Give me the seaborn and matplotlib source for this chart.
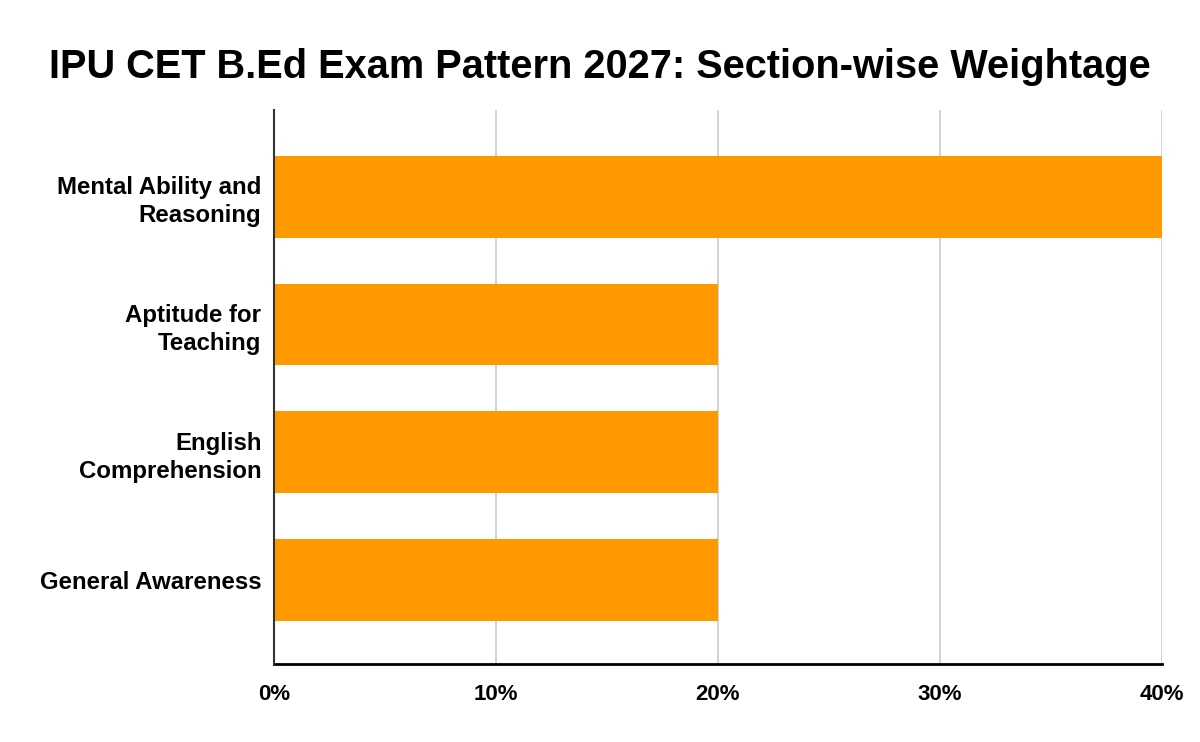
import numpy as np
import matplotlib
matplotlib.use("Agg")
import matplotlib.pyplot as plt
import seaborn as sns
import pandas as pd

sections = ["Mental Ability and\nReasoning", "Aptitude for\nTeaching",
            "English\nComprehension", "General Awareness"]
weightage = [40, 20, 20, 20]
x_ticks = [0, 10, 20, 30, 40]
x_labels = ["0%", "10%", "20%", "30%", "40%"]

df = pd.DataFrame({"section": sections, "weight": weightage})

sns.set_style("white")
plt.rcParams["font.family"] = ["Liberation Sans", "DejaVu Sans"]
plt.rcParams["text.color"] = "black"
plt.rcParams["xtick.color"] = "black"
plt.rcParams["ytick.color"] = "black"

fig = plt.figure(figsize=(12, 7.42), dpi=100)
ax = fig.add_axes([0.2283, 0.105, 0.74, 0.747])

sns.barplot(data=df, x="weight", y="section", color="#ff9900",
            saturation=1, width=0.64, ax=ax, zorder=3,
            edgecolor="none", linewidth=0)

ax.set_xlim(0, 40)
ax.set_ylim(3.66, -0.68)
ax.set_xticks(x_ticks)
ax.set_xticklabels(x_labels, fontsize=16, fontweight="bold")
for lab in ax.get_yticklabels():
    lab.set_fontsize(17.3)
    lab.set_fontweight("bold")
    lab.set_linespacing(1.28)
ax.set_xlabel("")
ax.set_ylabel("")
ax.tick_params(axis="x", length=0, pad=14)
ax.tick_params(axis="y", length=0, pad=9)
ax.grid(axis="x", color="#cccccc", linewidth=1.2, zorder=0)

for s in ["top", "right"]:
    ax.spines[s].set_visible(False)
ax.spines["left"].set_color("#333333")
ax.spines["left"].set_linewidth(1.5)
ax.spines["left"].set_zorder(4)
ax.spines["bottom"].set_color("black")
ax.spines["bottom"].set_linewidth(2)

fig.suptitle("IPU CET B.Ed Exam Pattern 2027: Section-wise Weightage",
             x=0.5, y=0.935, fontsize=28.6, fontweight="bold")

fig.savefig("out.png", dpi=100)
